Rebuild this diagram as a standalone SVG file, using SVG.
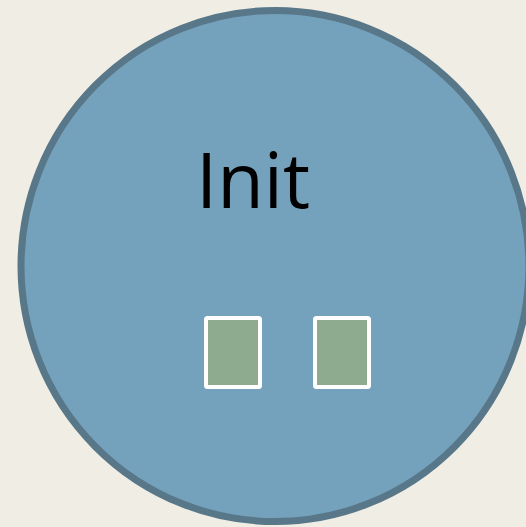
<svg xmlns="http://www.w3.org/2000/svg" width="526" height="527" viewBox="0 0 526 527">
<style>
.port{fill:#8eab8f;stroke:#ffffff;stroke-width:4}
.label{font-family:"Open Sans","Liberation Sans",sans-serif;font-size:76px;fill:#000000}
</style>
<rect x="0" y="0" width="526" height="527" fill="#f0ede5"/>
<g id="init">
<ellipse cx="275" cy="266" rx="254" ry="255.5" fill="#74a1bb" stroke="#587789" stroke-width="7"/>
<text class="label" x="196" y="208">Init</text>
</g>
<g id="port1"><rect class="port" x="206" y="318" width="54" height="69" rx="1.5"/></g>
<g id="port2"><rect class="port" x="315" y="318" width="54" height="69" rx="1.5"/></g>
<g id="connectors"></g>
</svg>
